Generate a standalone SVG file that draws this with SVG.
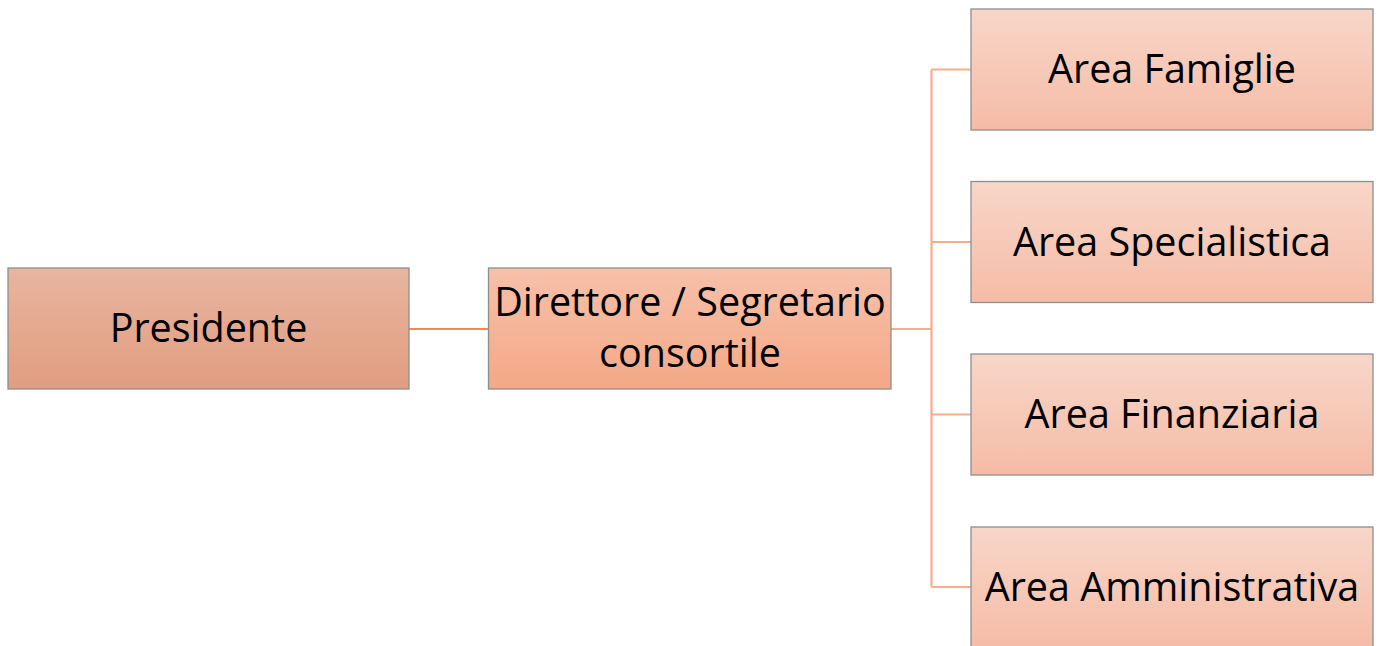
<svg xmlns="http://www.w3.org/2000/svg" width="1381" height="646" viewBox="0 0 1381 646">
<defs>
<linearGradient id="gP" x1="0" y1="0" x2="0" y2="1"><stop offset="0" stop-color="#e8b5a0"/><stop offset="1" stop-color="#e19d80"/></linearGradient>
<linearGradient id="gD" x1="0" y1="0" x2="0" y2="1"><stop offset="0" stop-color="#f7c1aa"/><stop offset="1" stop-color="#f4a886"/></linearGradient>
<linearGradient id="gA" x1="0" y1="0" x2="0" y2="1"><stop offset="0" stop-color="#f8d6c9"/><stop offset="1" stop-color="#f5bca6"/></linearGradient>
</defs>
<style>
.box{stroke:#8e8e8e;stroke-width:1.3}
.t{font-family:"Open Sans","Liberation Sans",sans-serif;font-size:39.5px;fill:#000;text-anchor:middle}
.c1{stroke:#ed8a55;stroke-width:2.2;fill:none}
.c2{stroke:#f4ae8c;stroke-width:2.2;fill:none}
</style>
<rect width="1381" height="646" fill="#fff"/>
<g id="connectors">
<line class="c1" x1="409" y1="329" x2="488" y2="329"/>
<path class="c2" d="M891 329 H931.5 M931.5 69.5 V587 M931.5 69.5 H971 M931.5 242 H971 M931.5 414.5 H971 M931.5 587 H971"/>
</g>
<g id="presidente"><rect class="box" x="8" y="268" width="401" height="121" fill="url(#gP)"/><text class="t" x="208.5" y="342">Presidente</text></g>
<g id="direttore"><rect class="box" x="488.5" y="268" width="402.5" height="121" fill="url(#gD)"/><text class="t" x="690" y="316">Direttore / Segretario</text><text class="t" x="690" y="367">consortile</text></g>
<g id="famiglie"><rect class="box" x="971" y="9" width="402" height="121" fill="url(#gA)"/><text class="t" x="1172" y="83">Area Famiglie</text></g>
<g id="specialistica"><rect class="box" x="971" y="181.5" width="402" height="121" fill="url(#gA)"/><text class="t" x="1172" y="256">Area Specialistica</text></g>
<g id="finanziaria"><rect class="box" x="971" y="354" width="402" height="121" fill="url(#gA)"/><text class="t" x="1172" y="428">Area Finanziaria</text></g>
<g id="amministrativa"><rect class="box" x="971" y="527" width="402" height="121" fill="url(#gA)"/><text class="t" x="1172" y="601">Area Amministrativa</text></g>
</svg>
